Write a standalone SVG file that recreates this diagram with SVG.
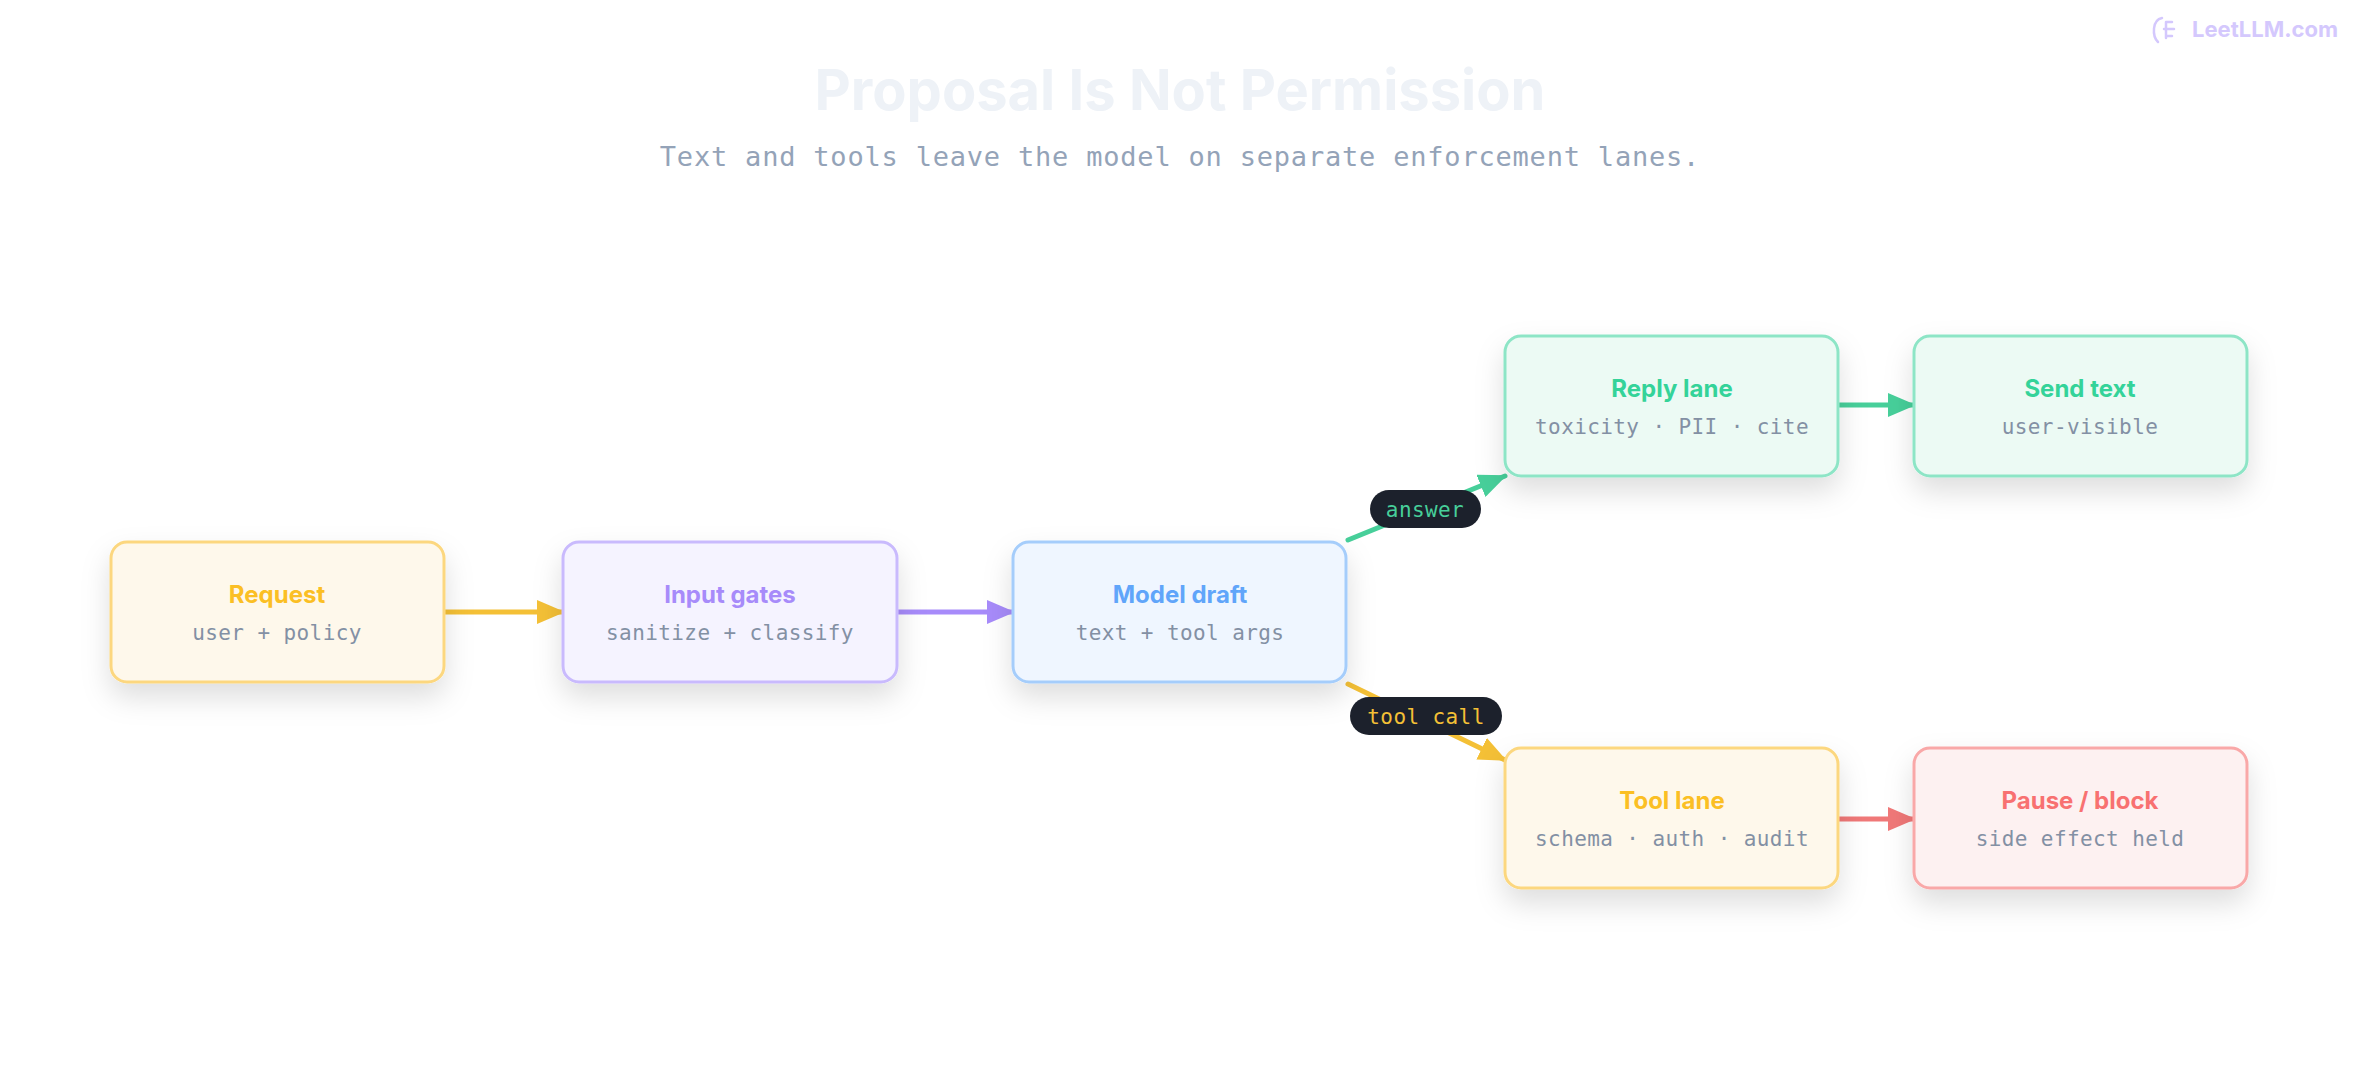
<svg xmlns="http://www.w3.org/2000/svg" width="2360" height="1080" viewBox="0 0 2360 1080">
<defs>
<filter id="sh" x="-30%" y="-30%" width="160%" height="180%"><feDropShadow dx="0" dy="14" stdDeviation="14" flood-color="#000" flood-opacity="0.13"/></filter>
<marker id="mY" viewBox="0 0 28 24" refX="26" refY="12" markerWidth="28" markerHeight="24" markerUnits="userSpaceOnUse" orient="auto"><path d="M0 0 L28 12 L0 24 Z" fill="#f4c036"/></marker>
<marker id="mP" viewBox="0 0 28 24" refX="26" refY="12" markerWidth="28" markerHeight="24" markerUnits="userSpaceOnUse" orient="auto"><path d="M0 0 L28 12 L0 24 Z" fill="#a78bfa"/></marker>
<marker id="mG" viewBox="0 0 28 24" refX="26" refY="12" markerWidth="28" markerHeight="24" markerUnits="userSpaceOnUse" orient="auto"><path d="M0 0 L28 12 L0 24 Z" fill="#47cf9a"/></marker>
<marker id="mR" viewBox="0 0 28 24" refX="26" refY="12" markerWidth="28" markerHeight="24" markerUnits="userSpaceOnUse" orient="auto"><path d="M0 0 L28 12 L0 24 Z" fill="#f07878"/></marker>
</defs>
<style>
.box{stroke-width:3;filter:url(#sh)}
.t{font-family:Inter,"Liberation Sans",sans-serif;font-weight:700;font-size:24px;text-anchor:middle}
.s{font-family:"DejaVu Sans Mono","Liberation Mono",monospace;font-size:21px;letter-spacing:0.4px;fill:#8390a4;text-anchor:middle}
.e{fill:none;stroke-width:5;stroke-linecap:round}
.pill{fill:#1c212c}
.pl{font-family:"DejaVu Sans Mono","Liberation Mono",monospace;font-size:21px;letter-spacing:0.4px;text-anchor:middle}
</style>
<rect width="2360" height="1080" fill="#ffffff"/>
<g id="logo" fill="none" stroke="#d4c8fd" stroke-width="2.5" stroke-linecap="round"><path d="M2162 18 C2152 20 2152 36 2158 42 M2166 22 L2172 22 M2164 29 L2174 29 M2166 36 L2172 36 M2166 22 L2166 38"/></g>
<text x="2338" y="37" font-family="Inter,'Liberation Sans',sans-serif" font-weight="700" font-size="22" fill="#d4c8fd" text-anchor="end">LeetLLM.com</text>
<text x="1180" y="110" font-family="Inter,'Liberation Sans',sans-serif" font-weight="700" font-size="56" fill="#eef2f7" text-anchor="middle">Proposal Is Not Permission</text>
<text x="1180" y="166" font-family="'DejaVu Sans Mono','Liberation Mono',monospace" font-size="27" letter-spacing="0.8" fill="#94a3b8" text-anchor="middle">Text and tools leave the model on separate enforcement lanes.</text>
<g id="connectors">
<line class="e" x1="444" y1="612" x2="563" y2="612" stroke="#f4c036" marker-end="url(#mY)"/>
<line class="e" x1="897" y1="612" x2="1013" y2="612" stroke="#a78bfa" marker-end="url(#mP)"/>
<line class="e" x1="1348" y1="540" x2="1505" y2="476" stroke="#47cf9a" marker-end="url(#mG)"/>
<line class="e" x1="1348" y1="684" x2="1505" y2="760" stroke="#f4c036" marker-end="url(#mY)"/>
<line class="e" x1="1838" y1="405" x2="1914" y2="405" stroke="#47cf9a" marker-end="url(#mG)"/>
<line class="e" x1="1838" y1="819" x2="1914" y2="819" stroke="#f07878" marker-end="url(#mR)"/>
<rect class="pill" x="1370" y="490" width="111" height="38" rx="19"/>
<text class="pl" x="1425" y="517" fill="#47cf9a">answer</text>
<rect class="pill" x="1350" y="697" width="152" height="38" rx="19"/>
<text class="pl" x="1426" y="724" fill="#f4c036">tool call</text>
</g>
<g id="request"><rect class="box" x="111" y="542" width="333" height="140" rx="16" fill="#fef8eb" stroke="#fcd77f"/><text class="t" x="277" y="603" fill="#fbbf24">Request</text><text class="s" x="277" y="640">user + policy</text></g>
<g id="input"><rect class="box" x="563" y="542" width="334" height="140" rx="16" fill="#f5f3ff" stroke="#c9bafd"/><text class="t" x="730" y="603" fill="#a78bfa">Input gates</text><text class="s" x="730" y="640">sanitize + classify</text></g>
<g id="model"><rect class="box" x="1013" y="542" width="333" height="140" rx="16" fill="#eff6ff" stroke="#a5cdfb"/><text class="t" x="1180" y="603" fill="#60a5fa">Model draft</text><text class="s" x="1180" y="640">text + tool args</text></g>
<g id="reply"><rect class="box" x="1505" y="336" width="333" height="140" rx="16" fill="#ecfaf4" stroke="#8de5c6"/><text class="t" x="1672" y="397" fill="#34d399">Reply lane</text><text class="s" x="1672" y="434">toxicity · PII · cite</text></g>
<g id="send"><rect class="box" x="1914" y="336" width="333" height="140" rx="16" fill="#ecfaf4" stroke="#8de5c6"/><text class="t" x="2080" y="397" fill="#34d399">Send text</text><text class="s" x="2080" y="434">user-visible</text></g>
<g id="tool"><rect class="box" x="1505" y="748" width="333" height="140" rx="16" fill="#fef8eb" stroke="#fcd77f"/><text class="t" x="1672" y="809" fill="#fbbf24">Tool lane</text><text class="s" x="1672" y="846">schema · auth · audit</text></g>
<g id="pause"><rect class="box" x="1914" y="748" width="333" height="140" rx="16" fill="#fdf1f1" stroke="#f9a8a8"/><text class="t" x="2080" y="809" fill="#f87171">Pause / block</text><text class="s" x="2080" y="846">side effect held</text></g>
</svg>
